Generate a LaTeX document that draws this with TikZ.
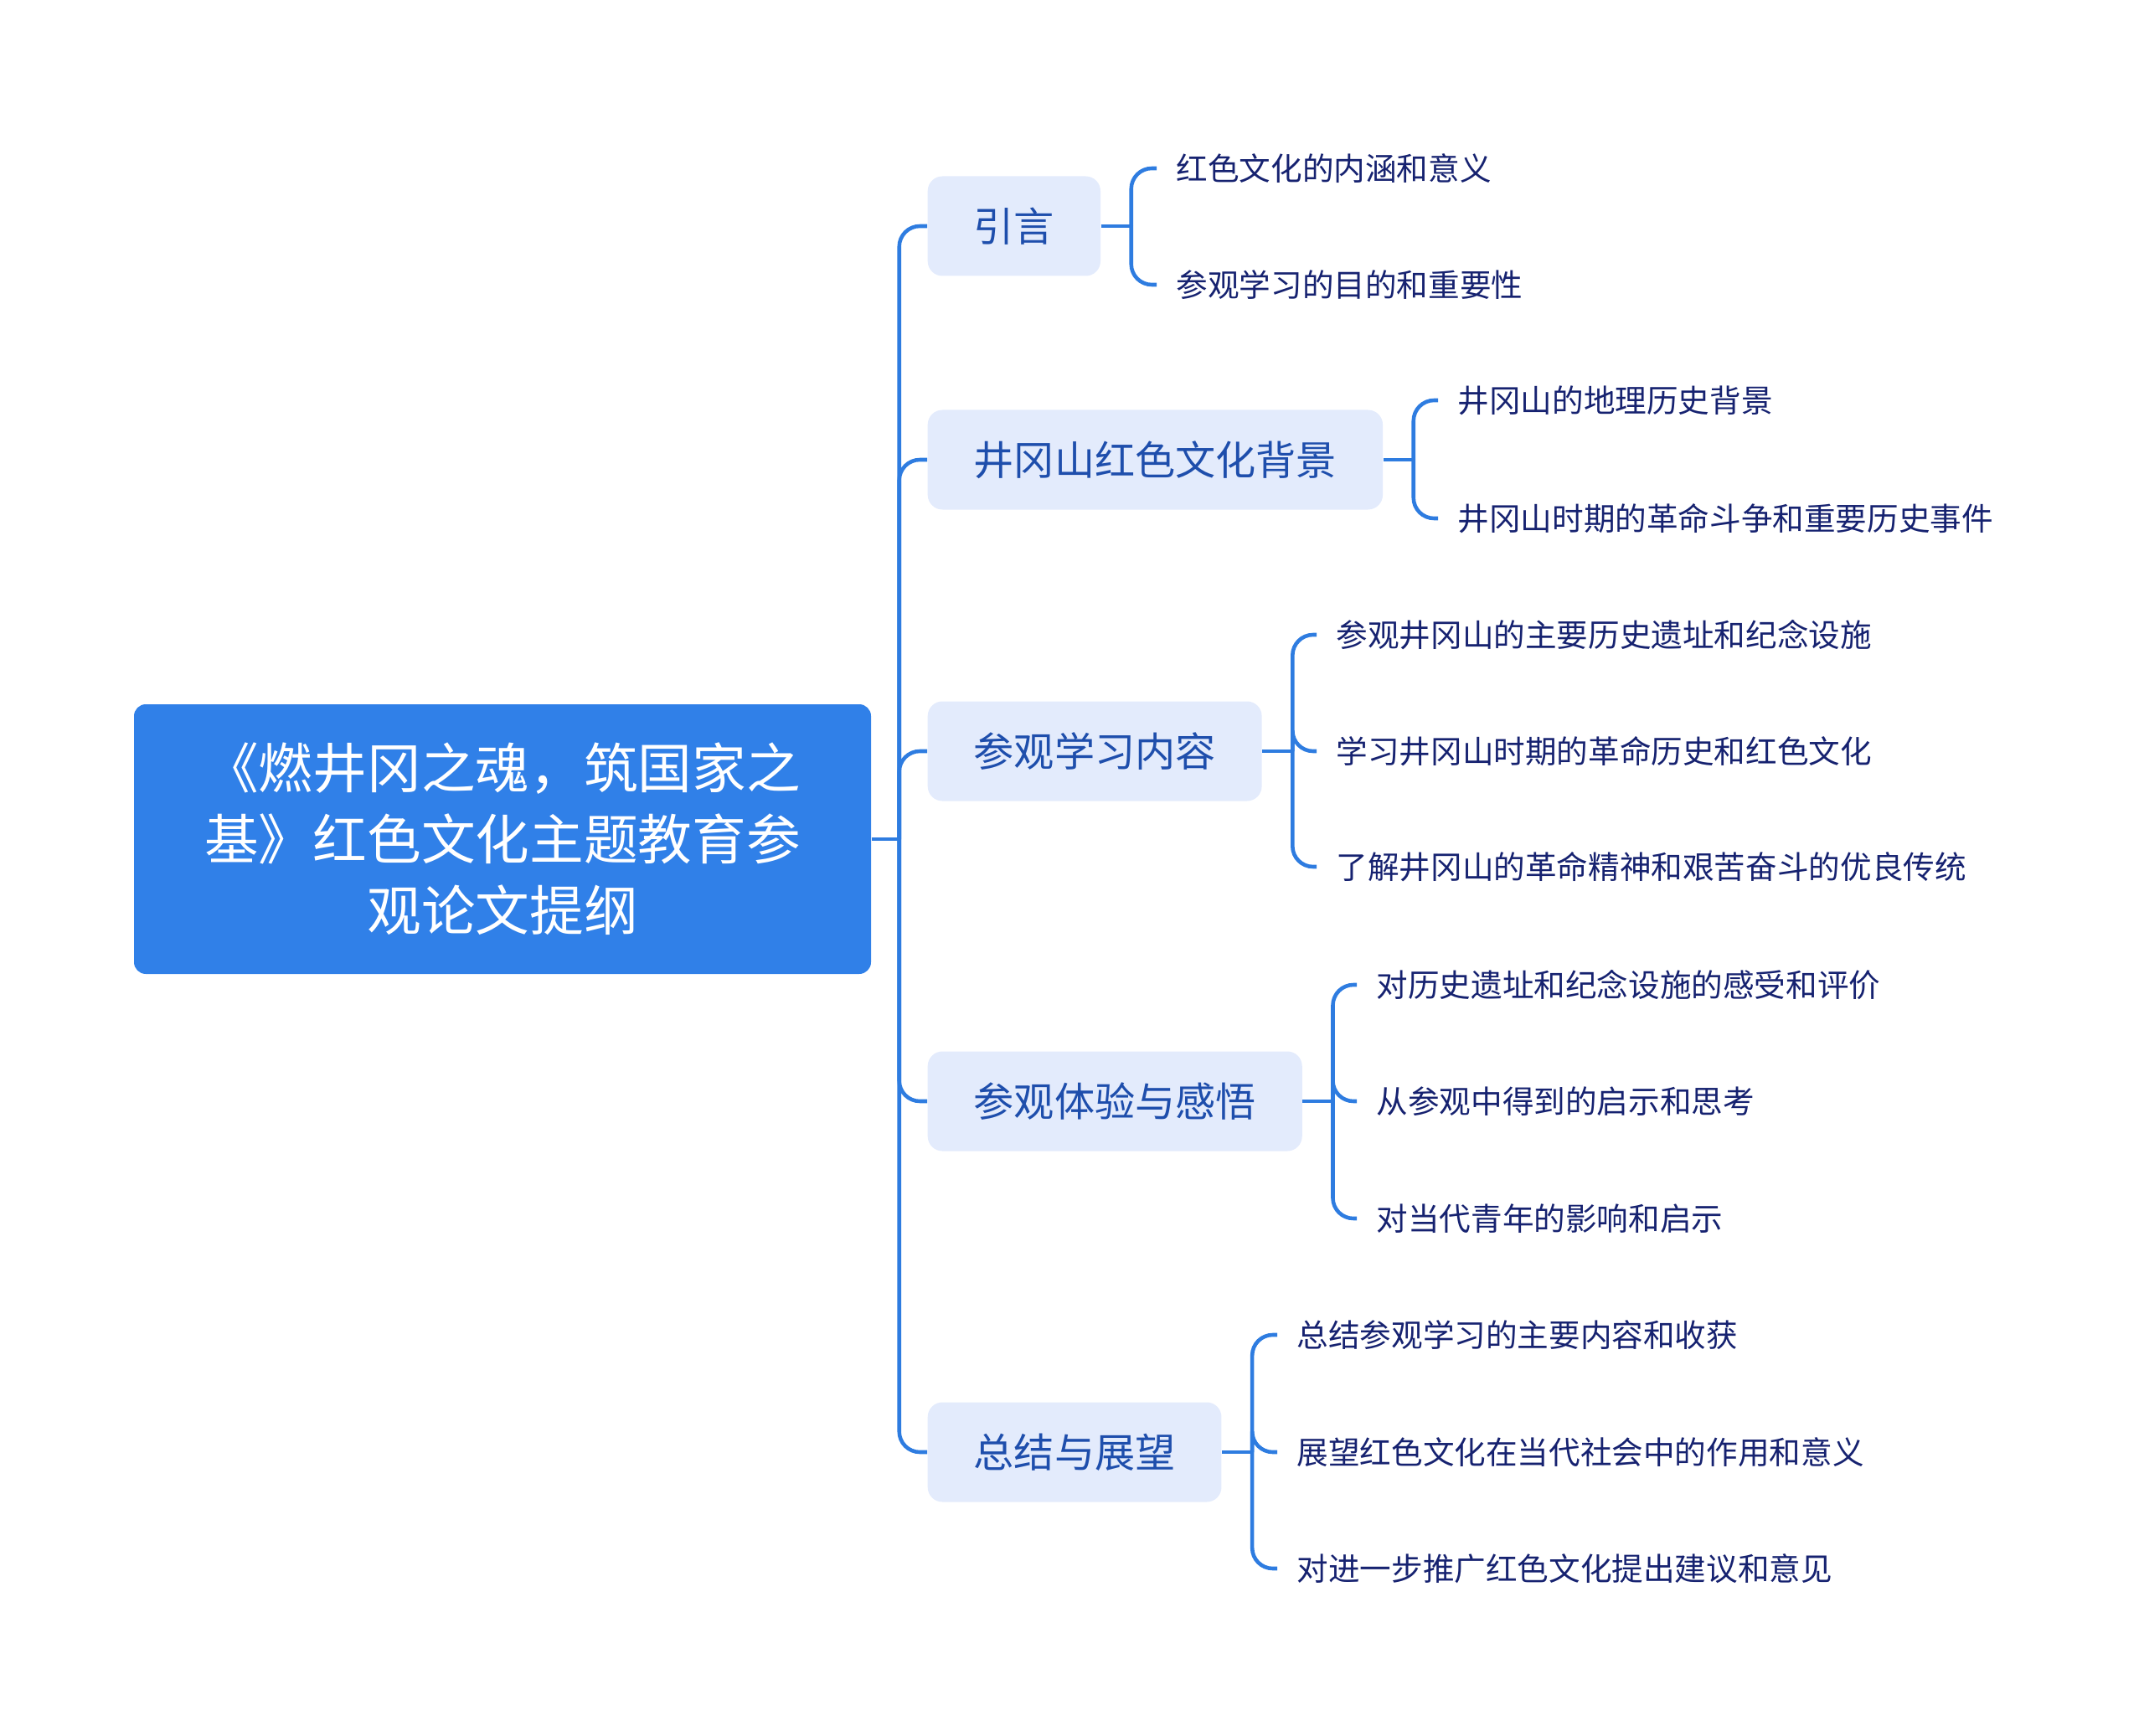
\documentclass[tikz,border=0pt]{standalone}
\usepackage{fontspec}
\setmainfont{Noto Sans CJK SC}
\usepackage{tikz}
\usetikzlibrary{positioning}
\definecolor{rootblue}{RGB}{48,128,232}
\definecolor{linkblue}{RGB}{46,124,224}
\definecolor{branchfill}{RGB}{227,235,252}
\definecolor{branchtext}{RGB}{30,78,172}
\definecolor{leaftext}{RGB}{22,34,112}

\begin{document}
\begin{tikzpicture}[
    rootbox/.style={rounded corners=4pt, fill=rootblue, text=white,
      minimum width=8.8cm, minimum height=3.22cm, align=center,
      font=\fontsize{18.4}{24.2}\selectfont},
    branchbox/.style={rounded corners=5pt, fill=branchfill, text=branchtext,
      anchor=west, inner xsep=0.55cm, minimum height=1.19cm,
      font=\fontsize{13.7}{16}\selectfont},
    leaftext/.style={anchor=west, inner xsep=0.23cm, inner ysep=0pt,
      text=leaftext, font=\fontsize{10.7}{13}\selectfont},
    link/.style={draw=linkblue, line width=1.3pt, rounded corners=7pt}]
  \useasboundingbox (0,0) rectangle (25.6,-20.73);

  % root
  \node[rootbox] (root) at (6.00,-10.02)
    {《燃井冈之魂，筑国家之\\基》红色文化主题教育参\\观论文提纲};

  % branches
  \node[branchbox] (intro) at (11.07,-2.70) {引言};
  \node[branchbox] (backgr) at (11.07,-5.49) {井冈山红色文化背景};
  \node[branchbox] (visit) at (11.07,-8.97) {参观学习内容};
  \node[branchbox] (feel) at (11.07,-13.15) {参观体验与感悟};
  \node[branchbox] (summ) at (11.07,-17.34) {总结与展望};

  % leaves
  \node[leaftext] (intro1) at (13.81,-2.01) {红色文化的内涵和意义};
  \node[leaftext] (intro2) at (13.81,-3.40) {参观学习的目的和重要性};

  \node[leaftext] (backgr1) at (17.17,-4.78) {井冈山的地理历史背景};
  \node[leaftext] (backgr2) at (17.17,-6.19) {井冈山时期的革命斗争和重要历史事件};

  \node[leaftext] (visit1) at (15.72,-7.58) {参观井冈山的主要历史遗址和纪念设施};
  \node[leaftext] (visit2) at (15.72,-8.97) {学习井冈山时期的革命历史和红色文化};
  \node[leaftext] (visit3) at (15.72,-10.35) {了解井冈山的革命精神和艰苦奋斗的优良传统};

  \node[leaftext] (feel1) at (16.20,-11.76) {对历史遗址和纪念设施的感受和评价};
  \node[leaftext] (feel2) at (16.20,-13.15) {从参观中得到的启示和思考};
  \node[leaftext] (feel3) at (16.20,-14.55) {对当代青年的影响和启示};

  \node[leaftext] (summ1) at (15.25,-15.94) {总结参观学习的主要内容和收获};
  \node[leaftext] (summ2) at (15.25,-17.34) {展望红色文化在当代社会中的作用和意义};
  \node[leaftext] (summ3) at (15.25,-18.73) {对进一步推广红色文化提出建议和意见};

  % root to branches
  \draw[link] (root.east) -- ++(0.33,0) coordinate (rootj);
  \foreach \b in {intro,backgr,visit,feel,summ}
    \draw[link] (rootj) |- (\b.west);

  % branches to leaves
  \foreach \b/\leaves in {intro/{intro1,intro2}, backgr/{backgr1,backgr2},
      visit/{visit1,visit2,visit3}, feel/{feel1,feel2,feel3},
      summ/{summ1,summ2,summ3}} {
    \draw[link] (\b.east) -- ++(0.36,0) coordinate (\b j);
    \foreach \l in \leaves
      \draw[link] (\b j) |- (\l.west);
  }
\end{tikzpicture}
\end{document}
